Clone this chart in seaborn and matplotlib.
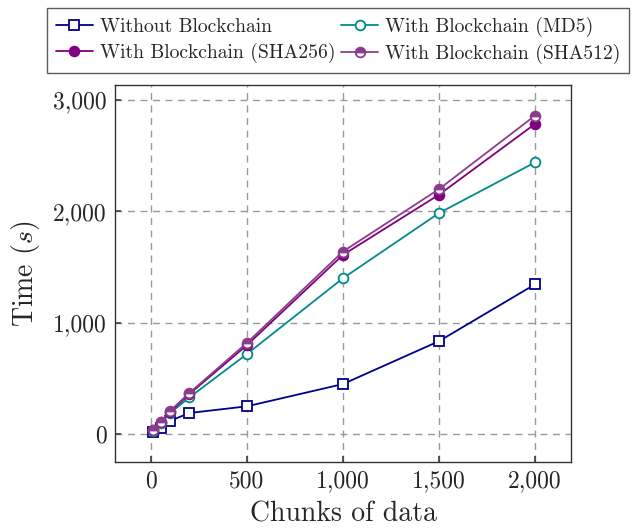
import matplotlib
matplotlib.use("Agg")
import matplotlib.pyplot as plt
import matplotlib.ticker as mticker
import seaborn as sns
import pandas as pd

# data
chunks = [10, 50, 100, 200, 500, 1000, 1500, 2000]
without_bc = [20, 55, 120, 190, 250, 450, 835, 1345]
with_md5 = [30, 100, 190, 330, 720, 1400, 1985, 2440]
with_sha256 = [35, 105, 200, 360, 800, 1610, 2150, 2785]
with_sha512 = [40, 110, 210, 370, 820, 1640, 2200, 2860]

series_names = ["Without Blockchain", "With Blockchain (MD5)",
                "With Blockchain (SHA256)", "With Blockchain (SHA512)"]

sns.set_theme(style="white")
plt.rcParams["font.family"] = ["cmr10", "DejaVu Serif"]
plt.rcParams["mathtext.fontset"] = "cm"
plt.rcParams["axes.formatter.use_mathtext"] = True

fig = plt.figure(figsize=(6.34, 5.29), dpi=100)
ax = fig.add_axes([115 / 634, 1 - 462 / 529, (571 - 115) / 634, (462 - 85) / 529])

styles = [
    dict(color="#00008b", marker="s", markerfacecolor="white", fillstyle="full"),
    dict(color="#008b8b", marker="o", markerfacecolor="white", fillstyle="full"),
    dict(color="#800080", marker="o", markerfacecolor="#800080", fillstyle="full"),
    dict(color="#8b3c8b", marker="o", markerfacecolor="#8b3c8b", fillstyle="top",
         markerfacecoloralt="white"),
]
values = [without_bc, with_md5, with_sha256, with_sha512]

for name, vals, st in zip(series_names, values, styles):
    df = pd.DataFrame({"chunks": chunks, "time": vals})
    sns.lineplot(data=df, x="chunks", y="time", ax=ax, label=name,
                 color=st["color"], marker=st["marker"], markersize=7,
                 markeredgecolor=st["color"], markeredgewidth=1.3,
                 markerfacecolor=st["markerfacecolor"], fillstyle=st["fillstyle"],
                 markerfacecoloralt=st.get("markerfacecoloralt", "none"),
                 linewidth=1.3)

ax.set_xlim(-187.5, 2187.5)
ax.set_ylim(-250, 3135)
ax.set_xticks([0, 500, 1000, 1500, 2000])
ax.set_yticks([0, 1000, 2000, 3000])
fmt = mticker.FuncFormatter(lambda v, p: f"{v:,.0f}")
ax.xaxis.set_major_formatter(fmt)
ax.yaxis.set_major_formatter(fmt)
ax.tick_params(axis="both", labelsize=17, direction="in", length=4, color="#444444",
               left=True, bottom=True, pad=6)
ax.grid(True, linestyle=(0, (5, 4)), color="#999999", linewidth=1.0)
for sp in ax.spines.values():
    sp.set_color("#333333")
    sp.set_linewidth(1.0)

ax.set_xlabel("Chunks of data", fontsize=20, labelpad=6)
ax.set_ylabel("Time ($s$)", fontsize=20, labelpad=8)

# legend filled row by row as in the reference
handles, labels = ax.get_legend_handles_labels()
ax.get_legend().remove()
order = [0, 2, 1, 3]
leg = fig.legend([handles[i] for i in order], [labels[i] for i in order], ncol=2,
                 loc="upper left", bbox_to_anchor=(47 / 634, 1 - 8 / 529),
                 borderaxespad=0, fontsize=14.1,
                 frameon=True, fancybox=False, edgecolor="#333333",
                 handlelength=1.9, columnspacing=0.3, handletextpad=0.35,
                 borderpad=0.45, labelspacing=0.35)
leg.get_frame().set_linewidth(1.0)

fig.savefig("out.png", dpi=100)
